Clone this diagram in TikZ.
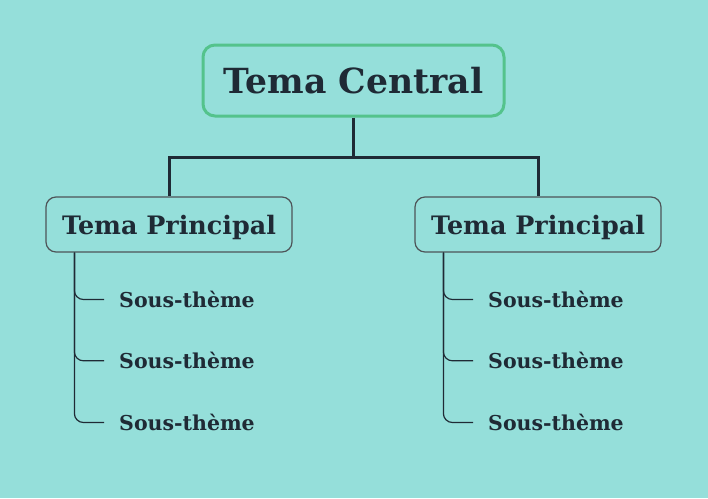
\documentclass[tikz,border=0pt]{standalone}
\usepackage{fontspec}
\setmainfont{DejaVu Serif}
\definecolor{bg}{RGB}{149,223,218}
\definecolor{ink}{RGB}{31,42,53}
\definecolor{grn}{RGB}{84,195,140}
\definecolor{gry}{RGB}{78,84,88}
\begin{document}
\begin{tikzpicture}[x=1pt,y=-1pt,
  central/.style={draw=grn, line width=3pt, rounded corners=12pt, fill=bg, minimum width=301pt, minimum height=71pt, text=ink, font=\fontsize{34.6}{38}\selectfont\bfseries, inner sep=0pt, text depth=0pt},
  mainbox/.style={draw=gry, line width=1.2pt, rounded corners=10pt, fill=bg, minimum width=246pt, minimum height=55pt, text=ink, font=\fontsize{25.4}{28}\selectfont\bfseries, inner sep=0pt, text depth=0pt},
  subt/.style={anchor=west, text=ink, font=\fontsize{20.5}{23}\selectfont\bfseries, inner sep=0pt},
  trunk/.style={draw=ink, line width=3pt},
  twig/.style={draw=ink, line width=1.2pt, rounded corners=9pt}]
\fill[bg] (0,0) rectangle (708,498);
\useasboundingbox (0,0) rectangle (708,498);
\node[central] (c) at (353.5,80.5) {Tema Central};
\node[mainbox] (l) at (169,224.5) {Tema Principal};
\node[mainbox] (r) at (538,224.5) {Tema Principal};
\coordinate (j) at (353.5,157);
\draw[trunk] (c.south) -- (j) -| (l.north);
\draw[trunk] (j) -| (r.north);
\node[subt] (l1) at (119,299.5) {Sous-thème};
\node[subt] (l2) at (119,360.8) {Sous-thème};
\node[subt] (l3) at (119,422.5) {Sous-thème};
\node[subt] (r1) at (488,299.5) {Sous-thème};
\node[subt] (r2) at (488,360.8) {Sous-thème};
\node[subt] (r3) at (488,422.5) {Sous-thème};
\foreach \n in {l1,l2,l3}{
  \draw[twig] ([xshift=29pt]l.south west) |- ([xshift=-15pt]\n.west);
}
\foreach \n in {r1,r2,r3}{
  \draw[twig] ([xshift=29pt]r.south west) |- ([xshift=-15pt]\n.west);
}
\end{tikzpicture}
\end{document}
